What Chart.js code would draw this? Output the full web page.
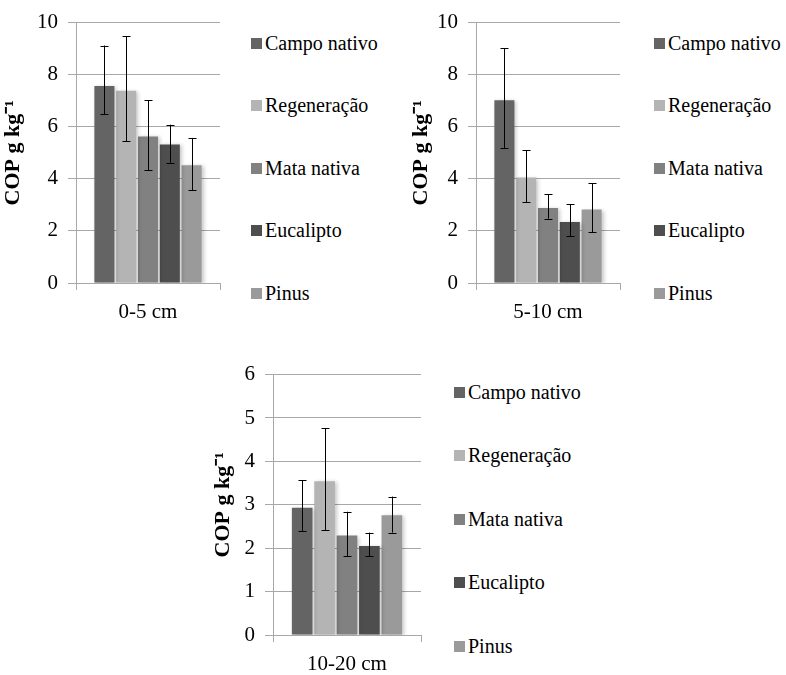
<!DOCTYPE html>
<html>
<head>
<meta charset="utf-8">
<script src="https://cdn.jsdelivr.net/npm/chart.js@4"></script>
<style>
  body { margin: 0; background: #fff; width: 786px; height: 675px; position: relative; overflow: hidden; font-family: 'Liberation Serif', serif; }
  .box { position: absolute; }
  .legend { position: absolute; font-family: 'Liberation Serif', serif; font-size: 20px; color: #000; }
  .legend div { position: absolute; white-space: nowrap; line-height: 20px; }
  .legend span { display: inline-block; width: 11px; height: 11px; margin-right: 3px; vertical-align: 1px; }
</style>
</head>
<body>
<div class="box" style="left:0;top:0"><canvas id="c1" width="230" height="340"></canvas></div>
<div class="box" style="left:400px;top:0"><canvas id="c2" width="230" height="340"></canvas></div>
<div class="box" style="left:197px;top:352px"><canvas id="c3" width="234" height="340"></canvas></div>
<div class="legend" id="l1" style="left:251px;top:0"></div>
<div class="legend" id="l2" style="left:654px;top:0"></div>
<div class="legend" id="l3" style="left:454px;top:0"></div>
<script>
"use strict";
// series and depths
const seriesNames = ['Campo nativo', 'Regeneração', 'Mata nativa', 'Eucalipto', 'Pinus'];
const depthLabels = ['0-5 cm', '5-10 cm', '10-20 cm'];

// COP values (g kg-1)
const cop0_5 = [7.57, 7.38, 5.63, 5.32, 4.52];
const hi0_5 = [9.12, 9.48, 7.02, 6.08, 5.57];
const lo0_5 = [6.49, 5.45, 4.33, 4.62, 3.56];

const cop5_10 = [7.02, 4.05, 2.88, 2.34, 2.82];
const hi5_10 = [9.01, 5.10, 3.41, 3.02, 3.84];
const lo5_10 = [5.19, 3.11, 2.47, 1.79, 1.95];

const cop10_20 = [2.93, 3.54, 2.29, 2.05, 2.76];
const hi10_20 = [3.57, 4.76, 2.84, 2.36, 3.19];
const lo10_20 = [2.39, 2.42, 1.81, 1.81, 2.36];

const yMax = [10, 10, 6];
const yStep = [2, 2, 1];

const barColors = ['#646464', '#b4b4b4', '#818181', '#4e4e4e', '#9a9a9a'];
const gridColor = '#a8a8a8';
const serif = 'Liberation Serif';
Chart.defaults.font.family = serif;

// draws bar shadows + error bars using the chart's own scales
const errorBars = {
    id: 'errorBars',
    beforeDatasetsDraw(chart) {
        const ctx = chart.ctx;
        ctx.save();
        ctx.shadowColor = 'rgba(0,0,0,0.22)';
        ctx.shadowBlur = 4;
        ctx.shadowOffsetX = 2;
        ctx.shadowOffsetY = 1;
    },
    afterDatasetsDraw(chart) {
        const ctx = chart.ctx;
        ctx.restore();
        const y = chart.scales.y;
        const err = chart.options.plugins.errorBars;
        ctx.save();
        ctx.strokeStyle = '#000';
        ctx.lineWidth = 1;
        chart.data.datasets.forEach((ds, i) => {
            const bar = chart.getDatasetMeta(i).data[0];
            const x = Math.round(bar.x) + 0.5;
            const yh = y.getPixelForValue(err.hi[i]);
            const yl = y.getPixelForValue(err.lo[i]);
            ctx.beginPath();
            ctx.moveTo(x, yh); ctx.lineTo(x, yl);
            ctx.moveTo(x - 4, Math.round(yh) + 0.5); ctx.lineTo(x + 4, Math.round(yh) + 0.5);
            ctx.moveTo(x - 4, Math.round(yl) + 0.5); ctx.lineTo(x + 4, Math.round(yl) + 0.5);
            ctx.stroke();
        });
        ctx.restore();
    }
};

function makeChart(id, idx, values, hi, lo, titlePad) {
    const ctx = document.getElementById(id).getContext('2d');
    return new Chart(ctx, {
        type: 'bar',
        data: {
            labels: [depthLabels[idx]],
            datasets: seriesNames.map((name, i) => ({
                label: name,
                data: [values[i]],
                backgroundColor: barColors[i],
                borderWidth: 0,
                barPercentage: 0.92,
                categoryPercentage: 0.757
            }))
        },
        options: {
            responsive: false,
            animation: false,
            layout: { padding: { left: 0, right: 10, top: 21, bottom: 7 } },
            plugins: {
                legend: { display: false },
                tooltip: { enabled: false },
                errorBars: { hi: hi, lo: lo }
            },
            scales: {
                x: {
                    afterFit: (s) => { s.height = 50; },
                    grid: { offset: true, drawOnChartArea: false, color: gridColor, tickLength: 7 },
                    border: { color: gridColor },
                    ticks: { color: '#000', padding: 10, font: { family: serif, size: 21 } }
                },
                y: {
                    min: 0,
                    max: yMax[idx],
                    afterFit: (s) => { s.width = 76; },
                    grid: { color: gridColor, tickLength: 8 },
                    border: { color: gridColor },
                    ticks: { stepSize: yStep[idx], color: '#000', padding: 10, font: { family: serif, size: 21 } },
                    title: {
                        display: true,
                        text: 'COP g kg⁻¹',
                        color: '#000',
                        padding: { top: titlePad, bottom: 0 },
                        font: { family: serif, size: 22, weight: 'bold', lineHeight: 1.2 }
                    }
                }
            }
        },
        plugins: [errorBars]
    });
}

makeChart('c1', 0, cop0_5, hi0_5, lo0_5, 0);
makeChart('c2', 1, cop5_10, hi5_10, lo5_10, 8);
makeChart('c3', 2, cop10_20, hi10_20, lo10_20, 13);

function makeLegend(id, rows) {
    const el = document.getElementById(id);
    seriesNames.forEach((name, i) => {
        const row = document.createElement('div');
        row.style.top = (rows[i] - 10) + 'px';
        row.innerHTML = '<span style="background:' + barColors[i] + '"></span>' + name;
        el.appendChild(row);
    });
}
makeLegend('l1', [43, 105, 168, 230, 293]);
makeLegend('l2', [43, 105, 168, 230, 293]);
makeLegend('l3', [392, 455, 519, 582, 646]);
</script>
</body>
</html>
